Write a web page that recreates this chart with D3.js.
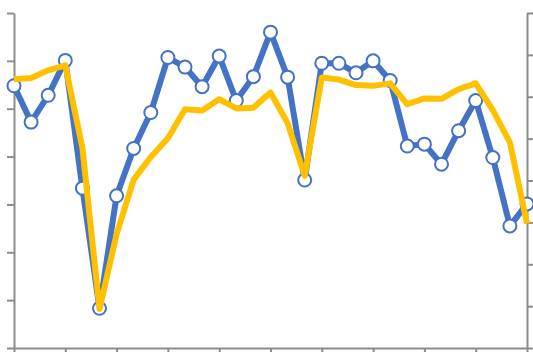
<!DOCTYPE html>
<html>
<head>
<meta charset="utf-8">
<script src="https://cdn.jsdelivr.net/npm/d3@7"></script>
<style>
  html, body { margin: 0; padding: 0; background: #ffffff; }
  svg { display: block; }
</style>
</head>
<body>
<svg id="chart" width="533" height="352"></svg>
<script>
// Periods along the horizontal axis (31 observations)
const periods = d3.range(1, 32).map(i => "P" + i);

// Primary series (left axis), drawn in blue with hollow markers
const seriesPrimary = [
  54.8, 47.2, 52.8, 60.1, 33.4, 8.3, 31.8, 41.7, 49.2, 60.7,
  58.7, 54.6, 61.0, 51.7, 56.7, 66.0, 56.6, 35.1, 59.5, 59.5,
  57.5, 60.0, 55.9, 42.2, 42.6, 38.4, 45.4, 51.7, 39.8, 25.5, 30.1
];

// Secondary series (right axis), drawn in gold
const seriesSecondary = [
  64.2, 64.5, 66.3, 67.5, 47.8, 9.3, 27.2, 40.2, 45.6, 50.1,
  57.0, 56.7, 59.4, 57.2, 57.4, 61.0, 53.7, 41.1, 64.6, 64.1,
  62.8, 62.6, 63.2, 58.2, 59.6, 59.5, 61.8, 63.2, 56.8, 49.1, 29.7
];

// Axis ranges and tick steps
const leftDomain = [0, 70];
const leftTicks = d3.range(0, 71, 10);
const rightDomain = [0, 80];
const rightTicks = d3.range(0, 81, 10);
const xTickPeriods = periods.filter((d, i) => i % 3 === 0);

const width = 533, height = 352;
const margin = { top: 13, right: 6, bottom: 4, left: 14 };

const svg = d3.select("#chart");

const x = d3.scalePoint()
  .domain(periods)
  .range([margin.left, width - margin.right]);

const yLeft = d3.scaleLinear()
  .domain(leftDomain)
  .range([height - margin.bottom, margin.top]);

const yRight = d3.scaleLinear()
  .domain(rightDomain)
  .range([height - margin.bottom, margin.top]);

const axisColor = "#8c8c8c";

function styleAxis(g) {
  g.selectAll("path.domain").attr("stroke", axisColor).attr("stroke-width", 2);
  g.selectAll(".tick line").attr("stroke", axisColor).attr("stroke-width", 2);
  g.selectAll(".tick text").remove();
}

// Left axis
svg.append("g")
  .attr("transform", `translate(${margin.left},0)`)
  .call(d3.axisLeft(yLeft).tickValues(leftTicks).tickSizeInner(7).tickSizeOuter(0).tickFormat(""))
  .call(styleAxis);

// Right axis
svg.append("g")
  .attr("transform", `translate(${width - margin.right},0)`)
  .call(d3.axisRight(yRight).tickValues(rightTicks).tickSizeInner(7).tickSizeOuter(0).tickFormat(""))
  .call(styleAxis);

// Bottom axis
svg.append("g")
  .attr("transform", `translate(0,${height - margin.bottom})`)
  .call(d3.axisBottom(x).tickValues(xTickPeriods).tickSizeInner(6).tickSizeOuter(0).tickFormat(""))
  .call(styleAxis);

// Blue line with markers
const linePrimary = d3.line()
  .x((d, i) => x(periods[i]))
  .y(d => yLeft(d));

svg.append("path")
  .datum(seriesPrimary)
  .attr("fill", "none")
  .attr("stroke", "#4472C4")
  .attr("stroke-width", 6)
  .attr("stroke-linejoin", "round")
  .attr("d", linePrimary);

svg.append("g")
  .selectAll("circle")
  .data(seriesPrimary)
  .join("circle")
  .attr("cx", (d, i) => x(periods[i]))
  .attr("cy", d => yLeft(d))
  .attr("r", 6.5)
  .attr("fill", "#ffffff")
  .attr("stroke", "#4472C4")
  .attr("stroke-width", 2);

// Gold line
const lineSecondary = d3.line()
  .x((d, i) => x(periods[i]))
  .y(d => yRight(d));

svg.append("path")
  .datum(seriesSecondary)
  .attr("fill", "none")
  .attr("stroke", "#FFC000")
  .attr("stroke-width", 6)
  .attr("stroke-linejoin", "round")
  .attr("d", lineSecondary);
</script>
</body>
</html>
